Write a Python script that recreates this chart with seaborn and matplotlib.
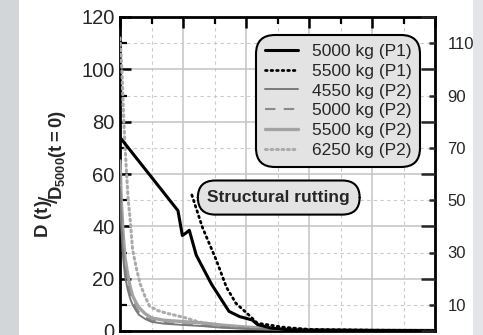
import numpy as np
import pandas as pd
import seaborn as sns
import matplotlib
matplotlib.use("Agg")
import matplotlib.pyplot as plt
from matplotlib.patches import Rectangle
from matplotlib.ticker import MultipleLocator, FixedLocator, NullFormatter

# ---------------- data ----------------
labels = ["5000 kg (P1)", "5500 kg (P1)", "4550 kg (P2)",
          "5000 kg (P2)", "5500 kg (P2)", "6250 kg (P2)"]

x_p1_5000 = [0.0, 0.92, 0.99, 1.05, 1.10, 1.21, 1.45, 1.73, 1.90, 2.10, 2.18, 2.40, 2.65, 3.0, 4.0, 5.0]
y_p1_5000 = [74.0, 46.0, 36.5, 37.5, 38.5, 29.0, 18.0, 7.5, 5.5, 4.2, 2.5, 1.1, 0.5, 0.3, 0.2, 0.1]

x_p1_5500 = [1.14, 1.31, 1.53, 1.69, 1.84, 2.05, 2.18, 2.37, 2.57, 3.0, 4.0, 5.0]
y_p1_5500 = [52.0, 39.5, 27.0, 16.7, 10.6, 6.0, 3.0, 2.3, 1.5, 0.6, 0.3, 0.2]

x_p2 = [0.0, 0.02, 0.05, 0.08, 0.12, 0.16, 0.2, 0.25, 0.3, 0.4, 0.5, 0.7, 1.0, 1.3, 1.6, 2.0, 2.5, 3.0, 4.0, 5.0]
y_p2_4550 = [55, 40, 28, 21, 16, 12.5, 10, 8, 6.2, 4.6, 3.5, 2.8, 2.3, 1.9, 1.3, 0.8, 0.5, 0.3, 0.2, 0.1]
y_p2_5000 = [60, 45, 32, 24, 18, 14, 11.5, 9, 7.2, 5.2, 4.0, 3.1, 2.6, 2.1, 1.5, 1.0, 0.6, 0.4, 0.2, 0.1]
y_p2_5500 = [65, 50, 37, 28, 22, 17, 13.5, 11, 9.0, 6.6, 5.0, 4.1, 3.6, 3.1, 2.3, 1.5, 0.9, 0.5, 0.3, 0.2]

x_p2_6250 = [0.0, 0.03, 0.06, 0.1, 0.13, 0.16, 0.2, 0.26, 0.32, 0.4, 0.47, 0.6, 0.74, 1.0, 1.26, 1.53, 1.9, 2.3, 3.0, 4.0, 5.0]
y_p2_6250 = [112, 100, 80, 62, 50, 43, 31, 24, 18, 13, 9.5, 7.8, 6.8, 5.3, 3.4, 2.3, 1.5, 1.0, 0.6, 0.3, 0.2]

left_ticks = [0, 20, 40, 60, 80, 100, 120]
right_ticks = [10, 30, 50, 70, 90, 110]

# ---------------- style ----------------
sns.set_theme(style="white")
plt.rcParams['font.family'] = ['Liberation Sans', 'DejaVu Sans']
plt.rcParams['mathtext.fontset'] = 'custom'
plt.rcParams['mathtext.rm'] = 'Liberation Sans'
plt.rcParams['mathtext.bf'] = 'Liberation Sans:bold'
plt.rcParams['mathtext.it'] = 'Liberation Sans:italic'

fig = plt.figure(figsize=(4.83, 3.35), dpi=100)
fig.patch.set_facecolor('#d3d6d9')
# white page area
fig.patches.append(Rectangle((19 / 483, 0), (473 - 19) / 483, 1, transform=fig.transFigure,
                             facecolor='white', edgecolor='none', zorder=-5))
fig.patches.append(Rectangle((473 / 483, 0), 10 / 483, 1, transform=fig.transFigure,
                             facecolor='#e3e5e9', edgecolor='none', zorder=-5))

ax = fig.add_axes([120 / 483, 1 - 331 / 335, (435 - 120) / 483, (331 - 17) / 335])
ax.set_facecolor('white')

def mk(x, y):
    return pd.DataFrame({"x": x, "y": y})

sns.lineplot(data=mk(x_p2_6250, y_p2_6250), x="x", y="y", ax=ax, color='#ababab',
             lw=2.2, linestyle=(0, (0.6, 1.2)), dash_capstyle='round', label=labels[5], zorder=3)
sns.lineplot(data=mk(x_p2, y_p2_5500), x="x", y="y", ax=ax, color='#a3a3a3',
             lw=2.4, label=labels[4], zorder=3)
sns.lineplot(data=mk(x_p2, y_p2_5000), x="x", y="y", ax=ax, color='#8a8a8a',
             lw=1.5, linestyle=(0, (5, 4)), label=labels[3], zorder=3)
sns.lineplot(data=mk(x_p2, y_p2_4550), x="x", y="y", ax=ax, color='#7a7a7a',
             lw=1.4, label=labels[2], zorder=3)
sns.lineplot(data=mk(x_p1_5500, y_p1_5500), x="x", y="y", ax=ax, color='black',
             lw=2.0, linestyle=(0, (0.6, 1.4)), dash_capstyle='round', label=labels[1], zorder=4)
sns.lineplot(data=mk(x_p1_5000, y_p1_5000), x="x", y="y", ax=ax, color='black',
             lw=2.2, label=labels[0], zorder=4)

ax.set_xlim(0, 5)
ax.set_ylim(0, 120)
ax.set_xlabel("")
ax.set_ylabel(r'$^{\mathbf{D\ (t)}}\!/\!_{\mathbf{D_{5000}(t=0)}}$', fontsize=19, labelpad=9)

ax.xaxis.set_major_locator(MultipleLocator(1))
ax.xaxis.set_minor_locator(MultipleLocator(0.5))
ax.yaxis.set_major_locator(FixedLocator(left_ticks))
ax.yaxis.set_minor_locator(MultipleLocator(10))
ax.xaxis.set_major_formatter(NullFormatter())

ax.grid(which='major', color='#c4c4c4', lw=1.1, ls='-')
ax.grid(which='minor', color='#cbcbcb', lw=0.8, ls=(0, (3, 3)))
ax.set_axisbelow(True)

ax.tick_params(axis='both', which='major', direction='in', length=8, width=1.8, color='black',
               top=True, right=False, labelsize=14.5, pad=4)
ax.tick_params(axis='both', which='minor', direction='in', length=5, width=1.6, color='black',
               top=True, right=False)
ax.tick_params(axis='y', which='both', left=True)
for s in ax.spines.values():
    s.set_color('black')
    s.set_linewidth(2.0)

ax2 = ax.twinx()
ax2.set_ylim(0, 120)
ax2.yaxis.set_major_locator(FixedLocator(right_ticks))
ax2.yaxis.set_minor_locator(FixedLocator(left_ticks))
ax2.yaxis.set_minor_formatter(NullFormatter())
ax2.tick_params(axis='y', which='major', direction='in', length=4, width=1.8, labelsize=12, pad=9)
ax2.tick_params(axis='y', which='minor', direction='in', length=10, width=1.8)
ax2.grid(False)
for s in ax2.spines.values():
    s.set_visible(False)

# legend (order as in reference)
handles, labs = ax.get_legend_handles_labels()
order = [labs.index(l) for l in labels]
leg = ax.legend([handles[i] for i in order], [labs[i] for i in order],
                loc='upper left', bbox_to_anchor=((256 - 120) / 315, 1 - (35 - 17) / 314),
                fontsize=12.5, frameon=True, fancybox=True, framealpha=1,
                handlelength=1.9, handletextpad=0.8, labelspacing=0.27,
                borderpad=0.5, borderaxespad=0)
fr = leg.get_frame()
fr.set_facecolor('#e3e3e3')
fr.set_edgecolor('black')
fr.set_linewidth(1.5)
fr.set_boxstyle('round,pad=0,rounding_size=1.1')
leg.set_zorder(10)

ax.text(2.52, 51, "Structural rutting", fontsize=12.5, fontweight='bold', ha='center', va='center',
        zorder=9,
        bbox=dict(boxstyle='round,pad=0.55,rounding_size=1.0', facecolor='#e3e3e3',
                  edgecolor='black', linewidth=1.5))

fig.savefig("out.png", dpi=100, facecolor=fig.get_facecolor())
